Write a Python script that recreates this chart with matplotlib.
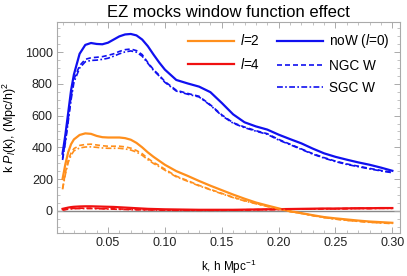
import matplotlib
matplotlib.use("Agg")
import matplotlib.pyplot as plt
from matplotlib.lines import Line2D
from matplotlib.ticker import MultipleLocator

plt.rcParams['font.family'] = ['Liberation Sans', 'DejaVu Sans']
plt.rcParams['mathtext.fontset'] = 'custom'
plt.rcParams['mathtext.rm'] = 'Liberation Sans'
plt.rcParams['mathtext.it'] = 'Liberation Sans:italic'

# k grid (h/Mpc)
k = [0.010, 0.0125, 0.015, 0.0175, 0.020, 0.025, 0.030, 0.035, 0.040, 0.045,
     0.050, 0.055, 0.060, 0.065, 0.070, 0.075, 0.080, 0.085, 0.090, 0.095,
     0.100, 0.110, 0.120, 0.130, 0.140, 0.150, 0.160, 0.170, 0.180, 0.190,
     0.200, 0.210, 0.220, 0.230, 0.240, 0.250, 0.260, 0.270, 0.280, 0.290, 0.300]

# monopole
p0_now = [360, 480, 620, 760, 860, 990, 1046, 1058, 1052, 1050,
          1060, 1080, 1100, 1112, 1115, 1106, 1080, 1038, 985, 935,
          890, 825, 803, 783, 748, 680, 608, 558, 532, 512,
          480, 452, 425, 392, 362, 340, 322, 305, 290, 272, 252]
p0_ngc = [330, 440, 580, 720, 830, 915, 955, 965, 968, 972,
          980, 990, 1005, 1016, 1020, 1010, 985, 935, 890, 855,
          815, 760, 740, 722, 668, 605, 555, 528, 505, 486,
          450, 420, 390, 360, 335, 313, 295, 281, 267, 254, 243]
p0_sgc = [320, 430, 565, 700, 810, 900, 940, 948, 950, 955,
          962, 975, 990, 1002, 1008, 1000, 975, 930, 885, 850,
          810, 755, 735, 718, 665, 600, 552, 524, 502, 482,
          446, 417, 387, 357, 332, 310, 292, 278, 264, 251, 240]

# quadrupole
p2_now = [200, 295, 370, 420, 450, 478, 488, 485, 472, 464,
          462, 462, 462, 458, 448, 428, 400, 368, 340, 315,
          290, 250, 220, 188, 158, 130, 102, 76, 52, 33,
          15, -3, -15, -28, -40, -48, -55, -62, -68, -72, -76]
p2_ngc = [140, 240, 320, 365, 392, 412, 418, 420, 415, 410,
          407, 407, 407, 403, 395, 380, 360, 330, 305, 285,
          262, 218, 190, 160, 135, 110, 85, 64, 46, 28,
          12, -4, -16, -30, -42, -52, -60, -66, -72, -76, -80]
p2_sgc = [135, 230, 305, 350, 378, 396, 402, 403, 400, 396,
          394, 394, 394, 390, 383, 370, 350, 322, 298, 278,
          256, 214, 186, 157, 132, 107, 83, 62, 44, 27,
          11, -5, -17, -31, -43, -53, -61, -67, -73, -77, -81]

# hexadecapole
p4_now = [12, 16, 20, 23, 25, 27, 28, 28, 27, 26,
          25, 24, 22, 20, 18, 16, 14, 12, 11, 10,
          9, 8, 7, 6, 6, 6, 6, 7, 8, 9,
          10, 11, 12, 13, 14, 14, 15, 16, 16, 17, 17]
p4_ngc = [6, 9, 12, 14, 15, 16, 16, 16, 15, 14,
          13, 12, 11, 10, 9, 8, 7, 6, 6, 5,
          5, 4, 4, 4, 4, 4, 5, 6, 7, 8,
          9, 10, 11, 12, 13, 13, 14, 15, 15, 16, 16]
p4_sgc = [4, 7, 10, 12, 13, 14, 14, 14, 13, 12,
          11, 10, 9, 8, 7, 6, 6, 5, 5, 4,
          4, 3, 3, 3, 3, 3, 4, 5, 6, 7,
          8, 9, 10, 11, 12, 12, 13, 14, 14, 15, 15]

orange = '#FF8F1C'
red = '#F01010'
blue = '#1010F0'
dash = (3, 1.8)
dashdot = (3.5, 1.4, 1, 1.4)

fig = plt.figure(figsize=(4.07, 2.76), dpi=100)
ax = fig.add_axes([0.14, 0.156, 0.843, 0.764])

ax.axhline(0, color='#888888', lw=1.0, zorder=1)

for vals, col in [(p4_now, red), (p2_now, orange), (p0_now, blue)]:
    ax.plot(k, vals, color=col, lw=1.6)
for vals, col in [(p4_ngc, red), (p2_ngc, orange), (p0_ngc, blue)]:
    ax.plot(k, vals, color=col, lw=1.2, dashes=dash)
for vals, col in [(p4_sgc, red), (p2_sgc, orange), (p0_sgc, blue)]:
    ax.plot(k, vals, color=col, lw=1.2, dashes=dashdot)

ax.set_xlim(0.0051, 0.3068)
ax.set_ylim(-140, 1190)
ax.xaxis.set_minor_locator(MultipleLocator(0.01))
ax.yaxis.set_major_locator(MultipleLocator(200))
ax.yaxis.set_minor_locator(MultipleLocator(50))
ax.set_xticks([0.05, 0.10, 0.15, 0.20, 0.25, 0.30])
ax.set_xticklabels(['0.05', '0.10', '0.15', '0.20', '0.25', '0.30'])

for s in ax.spines.values():
    s.set_color('#AAAAAA')
    s.set_linewidth(0.8)
ax.tick_params(which='both', direction='in', top=True, right=True,
               color='#AAAAAA', labelsize=9, labelcolor='#222222', pad=3)
ax.tick_params(which='major', length=4, width=0.7)
ax.tick_params(which='minor', length=2, width=0.5)

ax.set_title('EZ mocks window function effect', fontsize=12, pad=4)
ax.set_xlabel('k, h Mpc$^{-1}$', fontsize=8.5, labelpad=6)
ax.set_ylabel('k $P_{l}$(k), (Mpc/h)$^2$', fontsize=9, labelpad=4)

handles = [
    Line2D([], [], color=orange, lw=1.6),
    Line2D([], [], color=red, lw=1.6),
    Line2D([], [], color='none'),
    Line2D([], [], color=blue, lw=1.6),
    Line2D([], [], color=blue, lw=1.2, dashes=dash),
    Line2D([], [], color=blue, lw=1.2, dashes=dashdot),
]
labels = ['$l$=2', '$l$=4', '', 'noW ($l$=0)', 'NGC W', 'SGC W']
ax.legend(handles, labels, ncol=2, loc='upper right', frameon=False,
          fontsize=9.8, handlelength=3.4, handletextpad=0.45,
          columnspacing=1.2, labelspacing=0.62,
          bbox_to_anchor=(1.0, 1.0), borderaxespad=0.35)

fig.savefig('out.png', dpi=100)
